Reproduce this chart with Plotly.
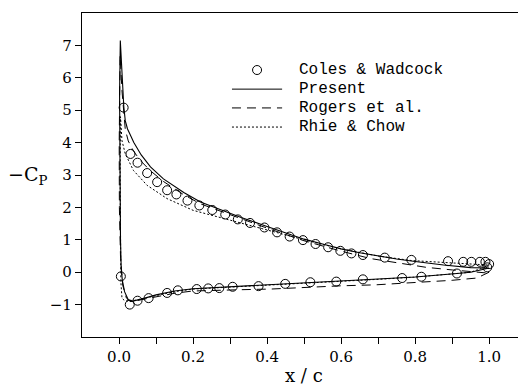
import plotly.graph_objects as go

# Experimental data (Coles & Wadcock)
exp_x = [0.0125, 0.031, 0.05, 0.076, 0.103, 0.13, 0.155, 0.185, 0.217, 0.252, 0.287, 0.321, 0.354,
         0.393, 0.427, 0.461, 0.497, 0.531, 0.565, 0.598, 0.628, 0.659, 0.718, 0.79, 0.889, 0.93,
         0.952, 0.975, 0.99, 1.0,
         0.005,
         0.029, 0.05, 0.08, 0.13, 0.159, 0.21, 0.241, 0.271, 0.307, 0.377, 0.449, 0.517, 0.587,
         0.659, 0.765, 0.817, 0.913, 0.995]
exp_y = [5.08, 3.65, 3.38, 3.06, 2.78, 2.53, 2.40, 2.21, 2.06, 1.92, 1.78, 1.63, 1.52,
         1.38, 1.23, 1.10, 0.99, 0.87, 0.77, 0.66, 0.58, 0.53, 0.45, 0.38, 0.34, 0.32,
         0.32, 0.32, 0.32, 0.25,
         -0.13,
         -1.0, -0.88, -0.80, -0.64, -0.56, -0.52, -0.50, -0.49, -0.45, -0.43, -0.36, -0.31, -0.29,
         -0.22, -0.18, -0.14, -0.04, 0.15]

# Present (lower surface TE->LE, then upper LE->TE)
pres_x = [1.0, 0.95, 0.913, 0.85, 0.8, 0.7, 0.6, 0.5, 0.4, 0.3, 0.2, 0.15, 0.1, 0.07, 0.05, 0.035,
          0.025, 0.015, 0.009, 0.006, 0.004, 0.002, 0.0015, 0.0035,
          0.006, 0.009, 0.013, 0.017, 0.023, 0.03, 0.04, 0.06, 0.085, 0.12, 0.175, 0.22, 0.274,
          0.33, 0.4, 0.45, 0.5, 0.55, 0.6, 0.65, 0.7, 0.75, 0.8, 0.877, 0.95, 1.0]
pres_y = [0.13, 0.0, -0.04, -0.10, -0.15, -0.21, -0.27, -0.32, -0.40, -0.45, -0.51, -0.58, -0.70,
          -0.80, -0.86, -0.90, -0.85, -0.60, -0.25, 0.10, 1.0, 3.0, 5.5, 7.15,
          6.5, 5.8, 5.1, 4.67, 4.42, 4.25, 4.0, 3.62, 3.25, 2.88, 2.46, 2.17, 1.93,
          1.69, 1.41, 1.21, 1.02, 0.87, 0.72, 0.60, 0.50, 0.41, 0.33, 0.22, 0.14, 0.13]

# Rogers et al.
rog_x = [1.0, 0.967, 0.9, 0.84, 0.75, 0.693, 0.6, 0.56, 0.49, 0.41, 0.33, 0.25, 0.2, 0.15, 0.1,
         0.06, 0.04, 0.03, 0.02, 0.01, 0.004, 0.001, 0.0005, 0.001, 0.003,
         0.008, 0.013, 0.017, 0.025, 0.04, 0.06, 0.085, 0.12, 0.175, 0.22, 0.274, 0.33, 0.4, 0.5,
         0.6, 0.68, 0.75, 0.83, 0.9, 1.0]
rog_y = [0.0, -0.18, -0.25, -0.29, -0.35, -0.39, -0.42, -0.44, -0.49, -0.52, -0.54, -0.56, -0.58,
         -0.65, -0.75, -0.85, -0.90, -0.90, -0.80, -0.40, 0.5, 2.0, 4.0, 5.5, 6.7,
         5.6, 4.8, 4.4, 4.05, 3.72, 3.42, 3.13, 2.80, 2.39, 2.11, 1.88, 1.64, 1.36, 0.97,
         0.65, 0.42, 0.29, 0.15, 0.07, -0.03]

# Rhie & Chow
rc_x = [1.0, 0.95, 0.913, 0.8, 0.7, 0.6, 0.5, 0.4, 0.3, 0.2, 0.15, 0.1, 0.06, 0.03, 0.015, 0.008,
        0.005, 0.004, 0.003, 0.004,
        0.008, 0.017, 0.039, 0.076, 0.13, 0.2, 0.265, 0.33, 0.4, 0.5, 0.6, 0.7, 0.79, 0.9, 1.0]
rc_y = [0.2, 0.0, -0.04, -0.15, -0.22, -0.28, -0.33, -0.41, -0.46, -0.52, -0.60, -0.72, -0.83,
        -0.90, -0.88, -0.80, -0.30, 1.0, 3.0, 4.8,
        4.06, 3.65, 3.14, 2.68, 2.27, 1.91, 1.71, 1.52, 1.30, 1.00, 0.72, 0.50, 0.36, 0.28, 0.22]

x_ticks = [0.0, 0.2, 0.4, 0.6, 0.8, 1.0]
x_ticktext = ["0.0", "0.2", "0.4", "0.6", "0.8", "1.0"]
x_minor_ticks = [0.1, 0.3, 0.5, 0.7, 0.9]
y_ticks = [-1, 0, 1, 2, 3, 4, 5, 6, 7]

legend_names = ["Coles & Wadcock", "Present", "Rogers et al.", "Rhie & Chow"]

fig = go.Figure()
fig.add_trace(go.Scatter(x=exp_x, y=exp_y, mode="markers", name=legend_names[0],
                         marker=dict(symbol="circle-open", size=9, color="black",
                                     line=dict(width=1, color="black"))))
fig.add_trace(go.Scatter(x=pres_x, y=pres_y, mode="lines", name=legend_names[1],
                         line=dict(color="black", width=1.1)))
fig.add_trace(go.Scatter(x=rog_x, y=rog_y, mode="lines", name=legend_names[2],
                         line=dict(color="black", width=1, dash="9px,6px")))
fig.add_trace(go.Scatter(x=rc_x, y=rc_y, mode="lines", name=legend_names[3],
                         line=dict(color="black", width=1, dash="2px,2px")))

# Legend key (drawn manually to match the compact original layout)
row_y = [0.824, 0.765, 0.707, 0.648]
key_x0, key_x1, text_x = 0.344, 0.459, 0.493
shapes = []
annotations = []
cx = (key_x0 + key_x1) / 2
rx = 4.5 / 436
ry = 4.5 / 324
shapes.append(dict(type="circle", xref="paper", yref="paper",
                   x0=cx - rx, x1=cx + rx, y0=row_y[0] - ry, y1=row_y[0] + ry,
                   line=dict(color="black", width=1)))
dashes = [None, "solid", "9px,6px", "2px,2px"]
for i in range(1, 4):
    shapes.append(dict(type="line", xref="paper", yref="paper",
                       x0=key_x0, x1=key_x1, y0=row_y[i], y1=row_y[i],
                       line=dict(color="black", width=1, dash=dashes[i])))
for i, name in enumerate(legend_names):
    annotations.append(dict(text=name, xref="paper", yref="paper", x=text_x, y=row_y[i],
                            xanchor="left", yanchor="middle", showarrow=False,
                            font=dict(family="Liberation Mono", size=16, color="black")))

annotations += [
    dict(text="\u2212C<sub>P</sub>", xref="paper", yref="y", x=-0.075, y=3,
         xanchor="right", yanchor="middle", showarrow=False,
         font=dict(family="DejaVu Serif", size=19, color="black")),
    dict(text="x / c", xref="x", yref="paper", x=0.5, y=-0.12,
         xanchor="center", yanchor="middle", showarrow=False,
         font=dict(family="DejaVu Serif", size=18, color="black")),
]

tickfont = dict(family="DejaVu Serif", size=15, color="black")
fig.update_layout(
    width=518, height=385,
    margin=dict(l=82, r=0, t=13, b=48),
    paper_bgcolor="white", plot_bgcolor="white",
    showlegend=False,
    xaxis=dict(range=[-0.1, 1.078], tickvals=x_ticks, ticktext=x_ticktext,
               ticks="outside", ticklen=6, tickcolor="black", showline=True,
               minor=dict(tickvals=x_minor_ticks, ticks="outside", ticklen=6,
                          tickcolor="black", showgrid=False),
               linecolor="black", linewidth=1.2, mirror=True, showgrid=False,
               zeroline=False, tickfont=tickfont),
    yaxis=dict(range=[-2, 8], tickvals=y_ticks, ticks="outside", ticklen=6,
               tickcolor="black", showline=True, linecolor="black", linewidth=1.2,
               mirror=False, showgrid=False, zeroline=False, tickfont=tickfont),
    shapes=shapes,
    annotations=annotations,
)
fig.write_html("out.html")
